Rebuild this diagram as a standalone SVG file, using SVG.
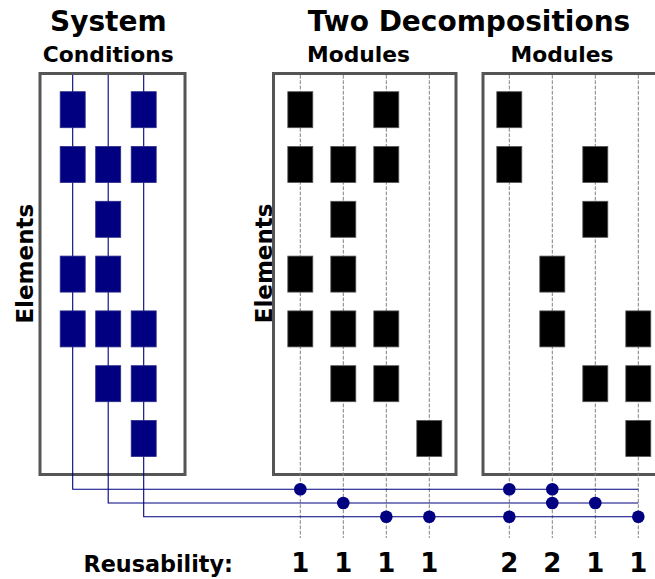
<svg xmlns="http://www.w3.org/2000/svg" width="655" height="579" viewBox="0 0 655 579">
<style>
text{font-family:"DejaVu Sans","Liberation Sans",sans-serif;font-weight:bold;fill:#000}
.t1{font-size:28px;text-anchor:middle}
.t2{font-size:21.8px;text-anchor:middle}
.el{font-size:23px;text-anchor:middle}
.num{font-size:26px;text-anchor:middle}
.box{fill:none;stroke:#555;stroke-width:3}
.dash{stroke:#808080;stroke-width:1;stroke-dasharray:3.7,1.6;fill:none}
.bl{stroke:#000080;stroke-width:1.1;fill:none}
.br{fill:#000080;stroke:#2a2a8a;stroke-width:0.8}
.kr{fill:#000;stroke:#555;stroke-width:0.8}
.dot{fill:#000080}
</style>
<rect width="655" height="579" fill="#fff"/>
<g id="titles">
<text class="t1" x="108.3" y="30.5">System</text>
<text class="t2" x="108.3" y="62">Conditions</text>
<text class="t1" x="469" y="30.5">Two Decompositions</text>
<text class="t2" x="358.5" y="62">Modules</text>
<text class="t2" x="562" y="62">Modules</text>
<text class="el" transform="translate(33.3,263.7) rotate(-90)">Elements</text>
<text class="el" transform="translate(271.7,263.4) rotate(-90)">Elements</text>
</g>
<g id="system-box">
<rect class="box" x="40" y="73.5" width="145" height="401"/>
</g>
<g id="decomp1-box">
<rect class="box" x="273.5" y="73.5" width="182.5" height="401"/>
</g>
<g id="decomp2-box">
<rect class="box" x="483" y="73.5" width="200" height="401"/>
</g>
<g id="connectors">
<path class="dash" d="M300.3,75V538M343.3,75V538M386.3,75V538M429.3,75V538M509.3,75V538M552.3,75V538M595.3,75V538M638.3,75V538"/>
<path class="bl" d="M72.7,75V489.3H638.3M108.2,75V503H638.3M143.7,75V516.7H638.3"/>
</g>
<g id="system-conditions">
<rect class="br" x="60.2" y="91.7" width="25" height="36"/>
<rect class="br" x="131.2" y="91.7" width="25" height="36"/>
<rect class="br" x="60.2" y="146.5" width="25" height="36"/>
<rect class="br" x="95.7" y="146.5" width="25" height="36"/>
<rect class="br" x="131.2" y="146.5" width="25" height="36"/>
<rect class="br" x="95.7" y="201.3" width="25" height="36"/>
<rect class="br" x="60.2" y="256.1" width="25" height="36"/>
<rect class="br" x="95.7" y="256.1" width="25" height="36"/>
<rect class="br" x="60.2" y="310.9" width="25" height="36"/>
<rect class="br" x="95.7" y="310.9" width="25" height="36"/>
<rect class="br" x="131.2" y="310.9" width="25" height="36"/>
<rect class="br" x="95.7" y="365.7" width="25" height="36"/>
<rect class="br" x="131.2" y="365.7" width="25" height="36"/>
<rect class="br" x="131.2" y="420.5" width="25" height="36"/>
</g>
<g id="decomposition-1">
<rect class="kr" x="287.8" y="91.7" width="25" height="36"/>
<rect class="kr" x="373.8" y="91.7" width="25" height="36"/>
<rect class="kr" x="287.8" y="146.5" width="25" height="36"/>
<rect class="kr" x="330.8" y="146.5" width="25" height="36"/>
<rect class="kr" x="373.8" y="146.5" width="25" height="36"/>
<rect class="kr" x="330.8" y="201.3" width="25" height="36"/>
<rect class="kr" x="287.8" y="256.1" width="25" height="36"/>
<rect class="kr" x="330.8" y="256.1" width="25" height="36"/>
<rect class="kr" x="287.8" y="310.9" width="25" height="36"/>
<rect class="kr" x="330.8" y="310.9" width="25" height="36"/>
<rect class="kr" x="373.8" y="310.9" width="25" height="36"/>
<rect class="kr" x="330.8" y="365.7" width="25" height="36"/>
<rect class="kr" x="373.8" y="365.7" width="25" height="36"/>
<rect class="kr" x="416.8" y="420.5" width="25" height="36"/>
</g>
<g id="decomposition-2">
<rect class="kr" x="496.8" y="91.7" width="25" height="36"/>
<rect class="kr" x="496.8" y="146.5" width="25" height="36"/>
<rect class="kr" x="582.8" y="146.5" width="25" height="36"/>
<rect class="kr" x="582.8" y="201.3" width="25" height="36"/>
<rect class="kr" x="539.8" y="256.1" width="25" height="36"/>
<rect class="kr" x="539.8" y="310.9" width="25" height="36"/>
<rect class="kr" x="625.8" y="310.9" width="25" height="36"/>
<rect class="kr" x="582.8" y="365.7" width="25" height="36"/>
<rect class="kr" x="625.8" y="365.7" width="25" height="36"/>
<rect class="kr" x="625.8" y="420.5" width="25" height="36"/>
</g>
<g id="dots">
<circle class="dot" cx="300.3" cy="489.3" r="6.3"/>
<circle class="dot" cx="509.3" cy="489.3" r="6.3"/>
<circle class="dot" cx="552.3" cy="489.3" r="6.3"/>
<circle class="dot" cx="343.3" cy="503" r="6.3"/>
<circle class="dot" cx="552.3" cy="503" r="6.3"/>
<circle class="dot" cx="595.3" cy="503" r="6.3"/>
<circle class="dot" cx="386.3" cy="516.7" r="6.3"/>
<circle class="dot" cx="429.3" cy="516.7" r="6.3"/>
<circle class="dot" cx="509.3" cy="516.7" r="6.3"/>
<circle class="dot" cx="638.3" cy="516.7" r="6.3"/>
</g>
<g id="reusability">
<text x="83.5" y="572.3" style="font-size:22.3px">Reusability:</text>
<text class="num" x="300.3" y="572.3">1</text>
<text class="num" x="343.3" y="572.3">1</text>
<text class="num" x="386.3" y="572.3">1</text>
<text class="num" x="429.3" y="572.3">1</text>
<text class="num" x="509.3" y="572.3">2</text>
<text class="num" x="552.3" y="572.3">2</text>
<text class="num" x="595.3" y="572.3">1</text>
<text class="num" x="638.3" y="572.3">1</text>
</g>
</svg>
